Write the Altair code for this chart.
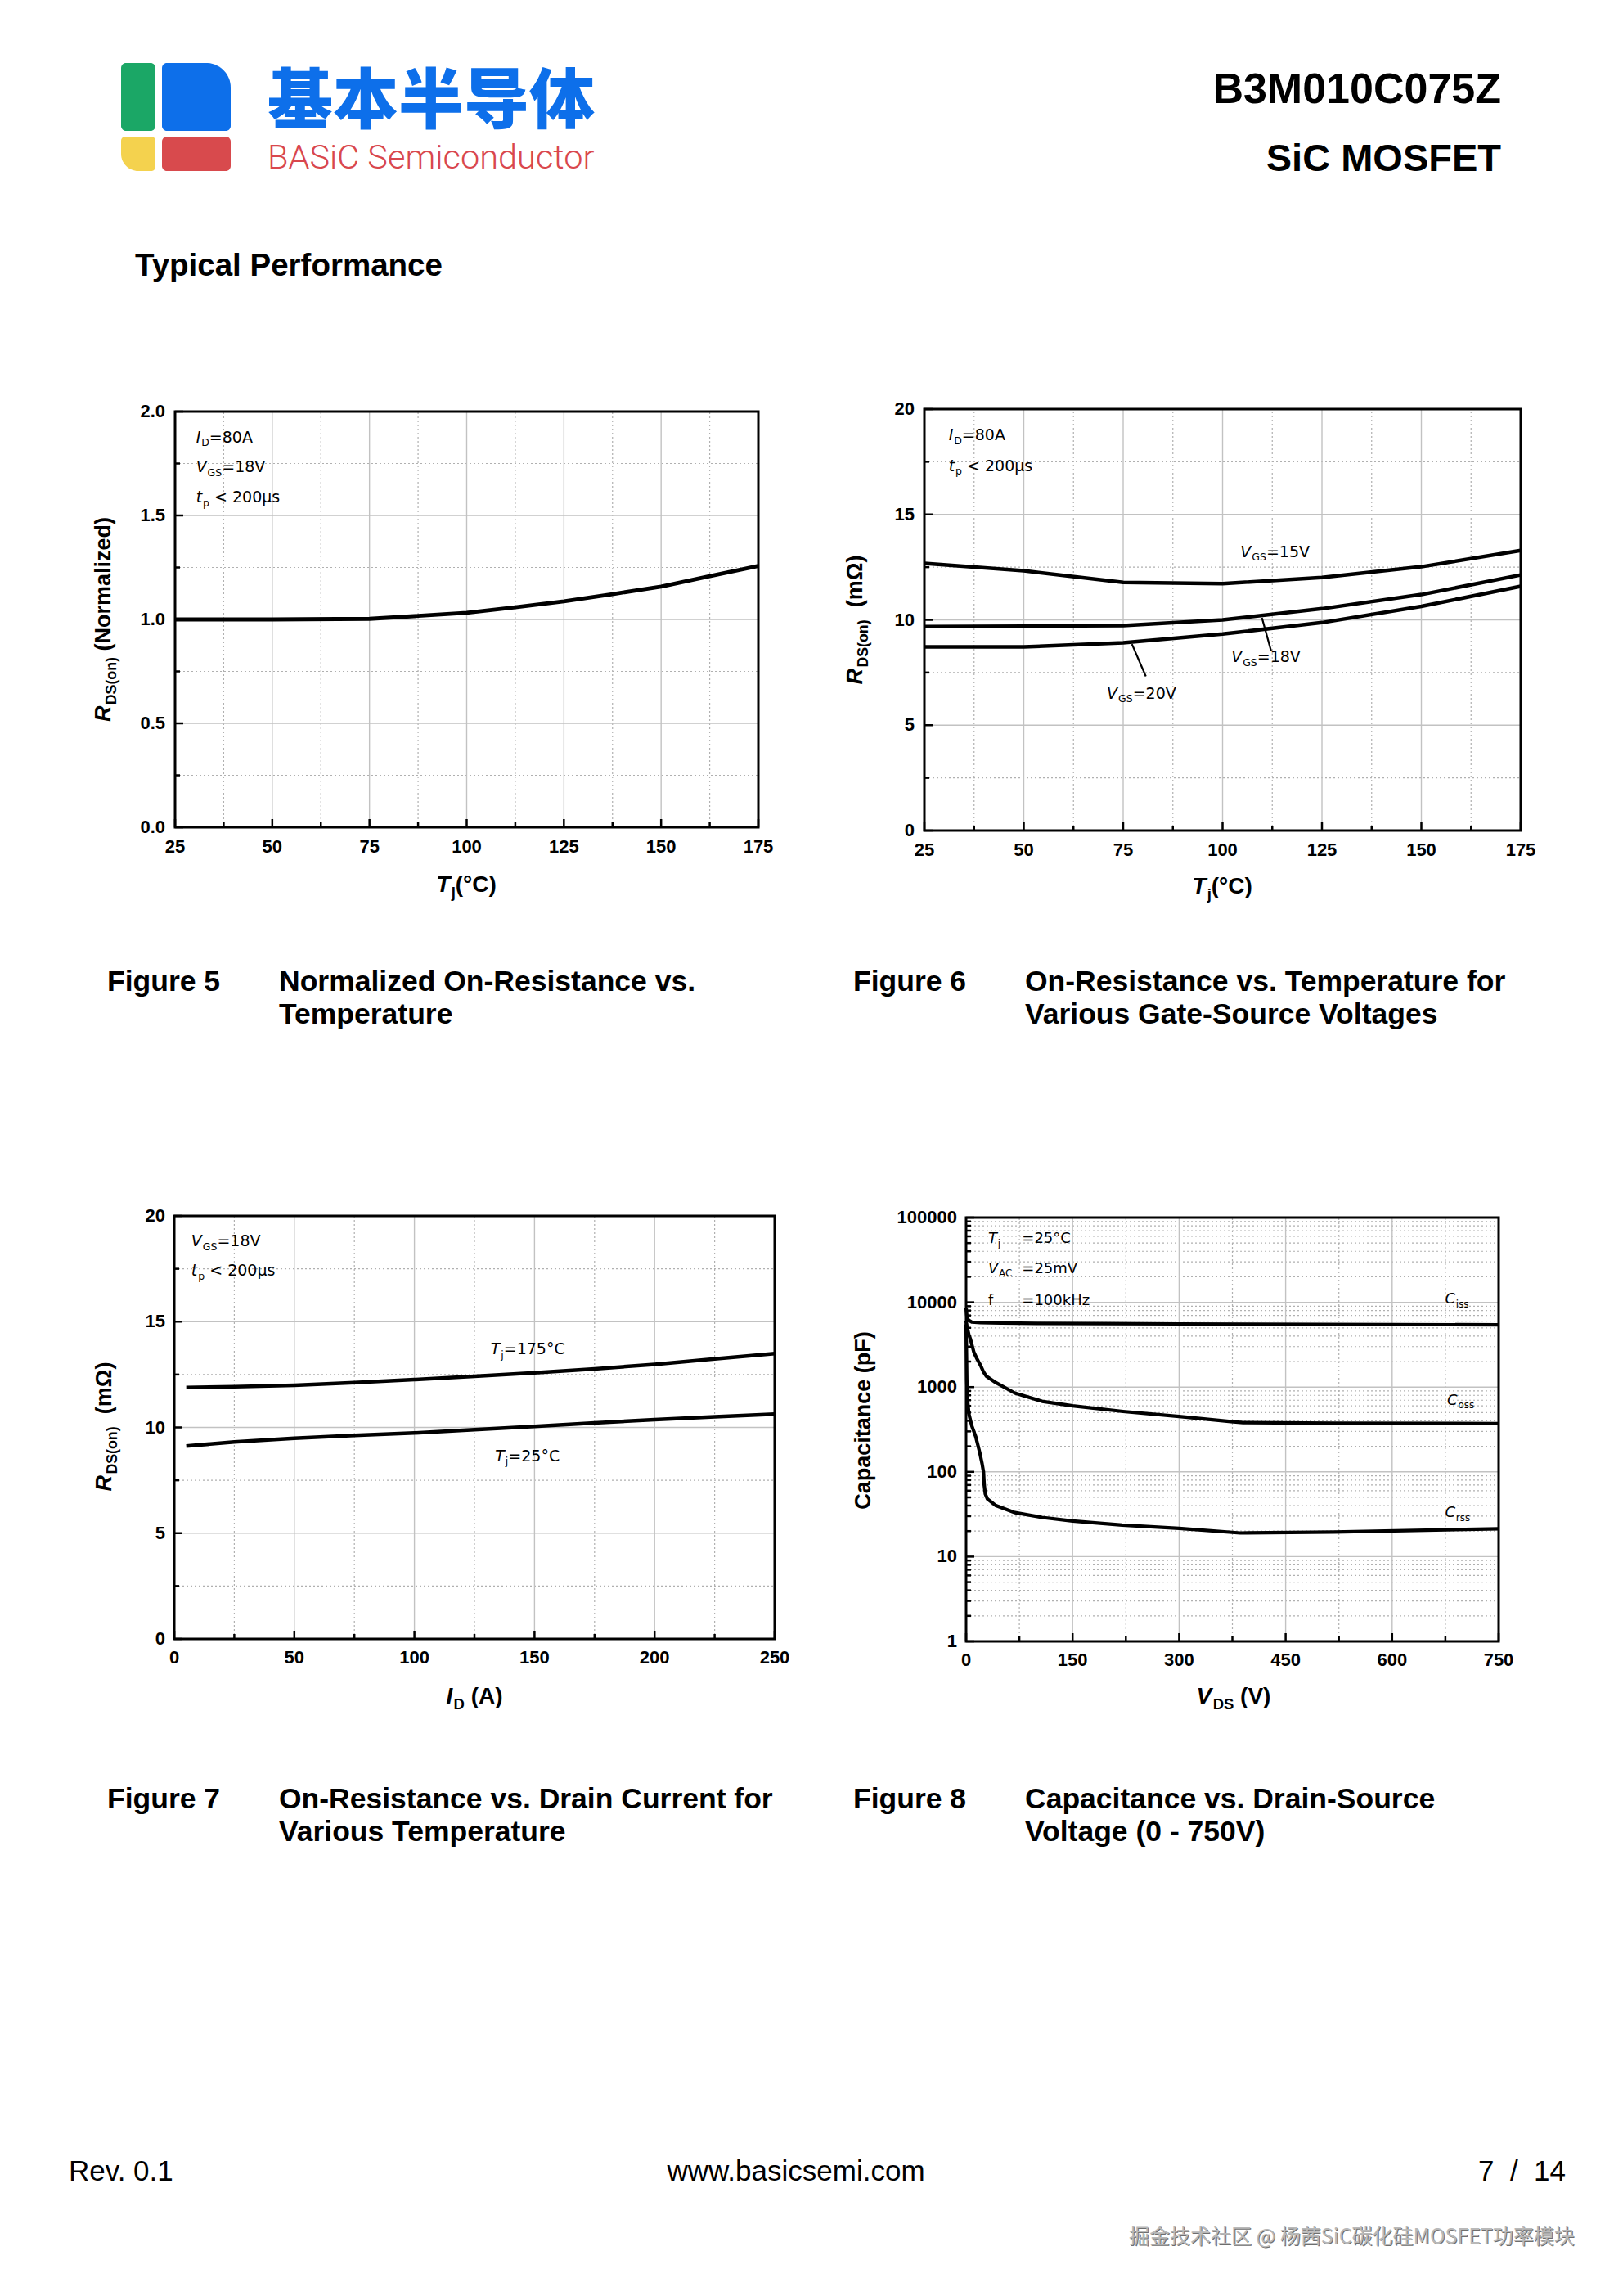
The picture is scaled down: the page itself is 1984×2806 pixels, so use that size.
import altair as alt
import pandas as pd

# ---------------- values ----------------
# Figure 5: normalized RDS(on) vs Tj
f5_tj = [25, 50, 75, 87.5, 100, 112.5, 125, 137.5, 150, 162.5, 175]
f5_rn = [1.000, 1.000, 1.003, 1.017, 1.032, 1.059, 1.087, 1.122, 1.158, 1.208, 1.257]

# Figure 6: RDS(on) vs Tj for VGS = 15 / 18 / 20 V
f6_tj = [25, 50, 75, 100, 125, 150, 175]
f6_vgs15 = [12.68, 12.33, 11.78, 11.72, 12.01, 12.52, 13.29]
f6_vgs18 = [9.68, 9.70, 9.73, 10.00, 10.53, 11.20, 12.13]
f6_vgs20 = [8.72, 8.72, 8.91, 9.33, 9.87, 10.64, 11.59]
f6_lead18_x = [109.9, 112.2]
f6_lead18_y = [10.1, 8.53]
f6_lead20_x = [77.2, 80.7]
f6_lead20_y = [8.85, 7.32]

# Figure 7: RDS(on) vs ID for Tj = 175 / 25 C
f7_id = [5, 25, 50, 75, 100, 125, 150, 175, 200, 225, 250]
f7_tj175 = [11.89, 11.92, 11.99, 12.12, 12.26, 12.42, 12.58, 12.77, 12.98, 13.24, 13.49]
f7_tj25 = [9.12, 9.31, 9.49, 9.62, 9.74, 9.89, 10.05, 10.21, 10.37, 10.50, 10.63]

# Figure 8: capacitances vs VDS
f8_ciss_v = [0, 1, 3, 8, 20, 50, 100, 200, 300, 400, 500, 600, 750]
f8_ciss = [8500, 7000, 6200, 5850, 5750, 5700, 5650, 5600, 5560, 5520, 5490, 5460, 5430]
f8_coss_v = [0, 1.3, 4, 6, 11, 16, 20.7, 24.5, 28.3, 41.7, 68.6, 107, 150, 221, 300, 373, 390, 518, 750]
f8_coss = [6000, 5140, 4100, 3700, 2570, 2100, 1780, 1515, 1350, 1130, 850, 680, 600, 516, 450, 392, 381, 374, 371]
f8_crss_v = [0, 0.5, 1, 2, 4, 8, 13.7, 19.5, 22.5, 24.5, 25.5, 27, 30, 42, 69, 107, 150, 220, 300, 386, 518, 750]
f8_crss = [5500, 2500, 1200, 700, 480, 350, 258, 165, 125, 100, 70, 55, 48, 40, 33, 29, 26.3, 23.5, 21.5, 19, 19.5, 21.3]

# tick values
t_temp_major = [25, 50, 75, 100, 125, 150, 175]
t_temp_minor = [37.5, 62.5, 87.5, 112.5, 137.5, 162.5]
t_norm_major = [0.0, 0.5, 1.0, 1.5, 2.0]
t_norm_minor = [0.25, 0.75, 1.25, 1.75]
t_res_major = [0, 5, 10, 15, 20]
t_res_minor = [2.5, 7.5, 12.5, 17.5]
t_id_major = [0, 50, 100, 150, 200, 250]
t_id_minor = [25, 75, 125, 175, 225]
t_vds_major = [0, 150, 300, 450, 600, 750]
t_vds_minor = [75, 225, 375, 525, 675]
t_cap_major = [1, 10, 100, 1000, 10000, 100000]
t_cap_minor = [k * 10 ** d for d in range(5) for k in range(2, 10)]

# ---------------- layout ----------------
W, H = 1968, 2790
M = 8


def P(v):
    return v - M


one = pd.DataFrame({'k': [0]})
LIB = 'Liberation Sans'
DJV = 'DejaVu Sans'
CJK = 'Noto Sans CJK SC'
GRID_MAJ = '#c2c2c2'
GRID_MIN = '#b0b0b0'

ARIAL_R = {' ': .278, '.': .278, '/': .278, 'R': .722, 'e': .556, 'v': .5, 'w': .722,
           'b': .556, 'a': .556, 's': .5, 'i': .222, 'c': .5, 'm': .833, 'o': .556}
for _d in '0123456789':
    ARIAL_R[_d] = .556
ARIAL_B = {' ': .278, '(': .333, ')': .333, '.': .278, '-': .333, '°': .4, 'Ω': .768,
           'A': .722, 'B': .722, 'C': .722, 'D': .722, 'E': .667, 'F': .611, 'G': .778,
           'I': .278, 'M': .833, 'N': .722, 'O': .778, 'P': .667, 'R': .722, 'S': .667,
           'T': .611, 'V': .667, 'Z': .611, 'a': .556, 'c': .556, 'd': .611, 'e': .556,
           'f': .333, 'g': .611, 'i': .278, 'j': .278, 'l': .278, 'm': .889, 'n': .611,
           'o': .611, 'p': .611, 'r': .389, 's': .556, 't': .333, 'u': .611, 'v': .556,
           'y': .556, 'z': .5}
for _d in '0123456789':
    ARIAL_B[_d] = .556
DJ = {' ': .318, '(': .390, ')': .390, '.': .318, '<': .838, '=': .838, '°': .5, 'μ': .636,
      'A': .684, 'C': .698, 'D': .770, 'G': .775, 'H': .752, 'I': .295, 'S': .635,
      'T': .611, 'V': .684, 'a': .613, 'c': .550, 'f': .352, 'j': .278, 'k': .579,
      'm': .974, 'o': .612, 'p': .635, 'r': .411, 's': .521, 'z': .525, 't': .392, 'i': .278}
for _d in '0123456789':
    DJ[_d] = .636


def tw(s, size, table):
    return size * sum(table.get(c, 0.6) for c in s)


def txt(s, pos, size, font, weight='normal', style='normal', color='black',
        align='left', angle=0, dx=0, dy=0, fig=None):
    mk = dict(text=s, font=font, fontSize=size, fontWeight=weight, fontStyle=style,
              color=color, align=align, baseline='alphabetic', dx=dx, dy=dy)
    if angle:
        mk['angle'] = angle
    if fig is None:
        return alt.Chart(one).mark_text(**mk).encode(
            x=alt.value(P(pos[0])), y=alt.value(P(pos[1])))
    df = pd.DataFrame({'x': [pos[0]], 'y': [pos[1]]})
    return alt.Chart(df).mark_text(**mk).encode(
        x=alt.X('x:Q', scale=fig['xs'], axis=None),
        y=alt.Y('y:Q', scale=fig['ys'], axis=None))


def rich(segs, pos, size, font, table, weight='normal', center=False, angle=0,
         fig=None, sub=0.66, subdy=0.25, color='black'):
    items = []
    for t, k in segs:
        fs = round(size * sub, 1) if k == 's' else size
        w = tw(t, fs, table) + (0.05 * fs if k == 'i' else 0)
        lead = tw(t[:len(t) - len(t.lstrip(' '))], fs, table)
        items.append((t.lstrip(' '), k, fs, w, lead))
    total = sum(i[3] for i in items)
    cur = -total / 2 if center else 0
    out = []
    for t, k, fs, w, lead in items:
        out.append(txt(t, pos, fs, font, weight, 'italic' if k == 'i' else 'normal', color,
                       'left', angle, dx=cur + lead, dy=(size * subdy if k == 's' else 0), fig=fig))
        cur += w
    return out


def make_fig(cfg):
    xs = alt.Scale(domain=cfg['xdom'], range=[P(cfg['xr'][0]), P(cfg['xr'][1])],
                   nice=False, zero=False)
    if cfg['log']:
        ys = alt.Scale(type='log', domain=cfg['ydom'],
                       range=[P(cfg['yr'][0]), P(cfg['yr'][1])], nice=False)
    else:
        ys = alt.Scale(domain=cfg['ydom'], range=[P(cfg['yr'][0]), P(cfg['yr'][1])],
                       nice=False, zero=False)
    return dict(cfg, xs=xs, ys=ys)


def fmt(v, f):
    return f.format(v)


def fig_layers(F, series, extra):
    xs, ys = F['xs'], F['ys']
    x0, x1 = F['xdom']
    y0, y1 = F['ydom']
    L = []
    vmin = pd.DataFrame({'v': F['xmin'], 'lo': y0, 'hi': y1})
    hmin = pd.DataFrame({'v': F['ymin'], 'lo': x0, 'hi': x1})
    vmaj = pd.DataFrame({'v': F['xmaj'], 'lo': y0, 'hi': y1})
    hmaj = pd.DataFrame({'v': F['ymaj'], 'lo': x0, 'hi': x1})
    L.append(alt.Chart(vmin).mark_rule(color=GRID_MIN, strokeWidth=1.2, strokeDash=[2, 3]).encode(
        x=alt.X('v:Q', scale=xs, axis=None), y=alt.Y('lo:Q', scale=ys, axis=None), y2='hi:Q'))
    L.append(alt.Chart(hmin).mark_rule(color=GRID_MIN, strokeWidth=1.2, strokeDash=[2, 3]).encode(
        y=alt.Y('v:Q', scale=ys, axis=None), x=alt.X('lo:Q', scale=xs, axis=None), x2='hi:Q'))
    L.append(alt.Chart(vmaj).mark_rule(color=GRID_MAJ, strokeWidth=1.4).encode(
        x=alt.X('v:Q', scale=xs, axis=None), y=alt.Y('lo:Q', scale=ys, axis=None), y2='hi:Q'))
    L.append(alt.Chart(hmaj).mark_rule(color=GRID_MAJ, strokeWidth=1.4).encode(
        y=alt.Y('v:Q', scale=ys, axis=None), x=alt.X('lo:Q', scale=xs, axis=None), x2='hi:Q'))
    for sx, sy in series:
        df = pd.DataFrame({'x': sx, 'y': sy})
        L.append(alt.Chart(df).mark_line(color='black', strokeWidth=F['lw'], strokeJoin='round').encode(
            x=alt.X('x:Q', scale=xs, axis=None), y=alt.Y('y:Q', scale=ys, axis=None)))
    fr = pd.DataFrame({'x0': [x0], 'x1': [x1], 'y0': [y0], 'y1': [y1]})
    L.append(alt.Chart(fr).mark_rect(fillOpacity=0, stroke='black', strokeWidth=3).encode(
        x=alt.X('x0:Q', scale=xs, axis=None), x2='x1:Q',
        y=alt.Y('y0:Q', scale=ys, axis=None), y2='y1:Q'))
    for vals, size in ((F['xmaj'], 10), (F['xmin'], 6)):
        df = pd.DataFrame({'v': vals, 'b': y0})
        L.append(alt.Chart(df).mark_tick(orient='vertical', size=size, thickness=2.5,
                                         color='black', yOffset=-size / 2, opacity=1).encode(
            x=alt.X('v:Q', scale=xs, axis=None), y=alt.Y('b:Q', scale=ys, axis=None)))
    for vals, size in ((F['ymaj'], 10), (F['ymin'], 6)):
        df = pd.DataFrame({'v': vals, 'b': x0})
        L.append(alt.Chart(df).mark_tick(orient='horizontal', size=size, thickness=2.5,
                                         color='black', xOffset=size / 2, opacity=1).encode(
            y=alt.Y('v:Q', scale=ys, axis=None), x=alt.X('b:Q', scale=xs, axis=None)))
    # tick labels, placed through the figure's scales
    xl = pd.DataFrame({'v': F['xmaj'], 'b': y0, 't': [fmt(v, F['xfmt']) for v in F['xmaj']]})
    L.append(alt.Chart(xl).mark_text(font=LIB, fontWeight='bold', fontSize=22, color='black',
                                     align='center', baseline='alphabetic', dy=F['xpad']).encode(
        x=alt.X('v:Q', scale=xs, axis=None), y=alt.Y('b:Q', scale=ys, axis=None), text='t:N'))
    yl = pd.DataFrame({'v': F['ymaj'], 'b': x0, 't': [fmt(v, F['yfmt']) for v in F['ymaj']]})
    L.append(alt.Chart(yl).mark_text(font=LIB, fontWeight='bold', fontSize=22, color='black',
                                     align='right', baseline='middle', dx=-F['ypad']).encode(
        y=alt.Y('v:Q', scale=ys, axis=None), x=alt.X('b:Q', scale=xs, axis=None), text='t:N'))
    L.extend(extra)
    return alt.layer(*L)


F5 = make_fig(dict(xdom=[25, 175], ydom=[0, 2], xr=(214, 927), yr=(1011, 503), log=False,
                   xmaj=t_temp_major, xmin=t_temp_minor, ymaj=t_norm_major, ymin=t_norm_minor,
                   xfmt='{:.0f}', yfmt='{:.1f}', xpad=31, ypad=12, lw=4.8))
F6 = make_fig(dict(xdom=[25, 175], ydom=[0, 20], xr=(1130, 1859), yr=(1015, 500), log=False,
                   xmaj=t_temp_major, xmin=t_temp_minor, ymaj=t_res_major, ymin=t_res_minor,
                   xfmt='{:.0f}', yfmt='{:.0f}', xpad=31, ypad=12, lw=4.5))
F7 = make_fig(dict(xdom=[0, 250], ydom=[0, 20], xr=(213, 947), yr=(2003, 1486), log=False,
                   xmaj=t_id_major, xmin=t_id_minor, ymaj=t_res_major, ymin=t_res_minor,
                   xfmt='{:.0f}', yfmt='{:.0f}', xpad=30, ypad=11, lw=4.5))
F8 = make_fig(dict(xdom=[0, 750], ydom=[1, 100000], xr=(1181, 1832), yr=(2006, 1488), log=True,
                   xmaj=t_vds_major, xmin=t_vds_minor, ymaj=t_cap_major, ymin=t_cap_minor,
                   xfmt='{:.0f}', yfmt='{:.0f}', xpad=30, ypad=11, lw=4.2))

AS = 19  # annotation font size


def note(segs, pos, fig, size=AS):
    return rich(segs, pos, size, DJV, DJ, fig=fig)


ex5 = []
ex5 += note([('I', 'i'), ('D', 's'), ('=80A', 'n')], (30.4, 1.852), F5)
ex5 += note([('V', 'i'), ('GS', 's'), ('=18V', 'n')], (30.4, 1.709), F5)
ex5 += note([('t', 'i'), ('p', 's'), (' < 200μs', 'n')], (30.4, 1.563), F5)

ex6 = []
for lx, ly in ((f6_lead18_x, f6_lead18_y), (f6_lead20_x, f6_lead20_y)):
    d = pd.DataFrame({'x': [lx[0]], 'x2': [lx[1]], 'y': [ly[0]], 'y2': [ly[1]]})
    ex6.append(alt.Chart(d).mark_rule(color='black', strokeWidth=2.2).encode(
        x=alt.X('x:Q', scale=F6['xs'], axis=None), x2='x2:Q',
        y=alt.Y('y:Q', scale=F6['ys'], axis=None), y2='y2:Q'))
ex6 += note([('I', 'i'), ('D', 's'), ('=80A', 'n')], (31.1, 18.51), F6)
ex6 += note([('t', 'i'), ('p', 's'), (' < 200μs', 'n')], (31.1, 17.06), F6)
ex6 += note([('V', 'i'), ('GS', 's'), ('=15V', 'n')], (104.5, 12.99), F6)
ex6 += note([('V', 'i'), ('GS', 's'), ('=18V', 'n')], (102.2, 8.0), F6)
ex6 += note([('V', 'i'), ('GS', 's'), ('=20V', 'n')], (70.9, 6.27), F6)

ex7 = []
ex7 += note([('V', 'i'), ('GS', 's'), ('=18V', 'n')], (7.1, 18.57), F7)
ex7 += note([('t', 'i'), ('p', 's'), (' < 200μs', 'n')], (7.1, 17.16), F7)
ex7 += note([('T', 'i'), ('j', 's'), ('=175°C', 'n')], (131.7, 13.47), F7)
ex7 += note([('T', 'i'), ('j', 's'), ('=25°C', 'n')], (133.6, 8.41), F7)

ex8 = []
ex8 += note([('T', 'i'), ('j', 's')], (31, 49900), F8, 18)
ex8 += note([('=25°C', 'n')], (78.7, 49900), F8, 18)
ex8 += note([('V', 'i'), ('AC', 's')], (31, 22070), F8, 18)
ex8 += note([('=25mV', 'n')], (78.7, 22070), F8, 18)
ex8 += note([('f', 'n')], (31, 9270), F8, 18)
ex8 += note([('=100kHz', 'n')], (78.7, 9270), F8, 18)
ex8 += note([('C', 'i'), ('iss', 's')], (674.4, 9590), F8, 18)
ex8 += note([('C', 'i'), ('oss', 's')], (677.4, 616), F8, 18)
ex8 += note([('C', 'i'), ('rss', 's')], (674.4, 29.3), F8, 18)

fig5 = fig_layers(F5, [(f5_tj, f5_rn)], ex5)
fig6 = fig_layers(F6, [(f6_tj, f6_vgs15), (f6_tj, f6_vgs18), (f6_tj, f6_vgs20)], ex6)
fig7 = fig_layers(F7, [(f7_id, f7_tj175), (f7_id, f7_tj25)], ex7)
fig8 = fig_layers(F8, [(f8_ciss_v, f8_ciss), (f8_coss_v, f8_coss), (f8_crss_v, f8_crss)], ex8)

# ---------------- page texts ----------------
T = []


def logo_rect(x0, y0, x1, y1, color, **corners):
    return alt.Chart(one).mark_rect(color=color, **corners).encode(
        x=alt.value(P(x0)), x2=alt.value(P(x1)), y=alt.value(P(y0)), y2=alt.value(P(y1)))


T.append(logo_rect(148, 77, 190, 160, '#1ba766', cornerRadius=6))
T.append(logo_rect(198, 77, 282, 160, '#0d6fea', cornerRadiusTopLeft=6, cornerRadiusBottomLeft=6,
                   cornerRadiusBottomRight=6, cornerRadiusTopRight=30))
T.append(logo_rect(148, 167, 190, 209, '#f4d24e', cornerRadiusTopLeft=5, cornerRadiusTopRight=5,
                   cornerRadiusBottomRight=5, cornerRadiusBottomLeft=32))
T.append(logo_rect(198, 167, 282, 209, '#d84a4d', cornerRadius=6))
T.append(txt('基本半导体', (327, 150), 80, CJK, weight=900, color='#0d6fea'))
T.append(txt('BASiC Semiconductor', (327, 206), 41.5, 'Roboto', weight=300, color='#d9474d'))
T.append(txt('B3M010C075Z', (1835, 126), 52, LIB, weight='bold', align='right'))
T.append(txt('SiC MOSFET', (1835, 209), 47, LIB, weight='bold', align='right'))
T.append(txt('Typical Performance', (165, 337), 38.5, LIB, weight='bold'))

# axis titles
T += rich([('R', 'i'), ('DS(on)', 's'), (' (Normalized)', 'n')], (135, 757), 27, LIB, ARIAL_B,
          weight='bold', center=True, angle=270)
T += rich([('R', 'i'), ('DS(on)', 's'), ('  (mΩ)', 'n')], (1054, 758), 27, LIB, ARIAL_B,
          weight='bold', center=True, angle=270)
T += rich([('R', 'i'), ('DS(on)', 's'), ('  (mΩ)', 'n')], (136, 1744), 27, LIB, ARIAL_B,
          weight='bold', center=True, angle=270)
T += rich([('Capacitance (pF)', 'n')], (1064, 1736), 27, LIB, ARIAL_B,
          weight='bold', center=True, angle=270)
T += rich([('T', 'i'), ('j', 's'), ('(°C)', 'n')], (570, 1090), 28, LIB, ARIAL_B,
          weight='bold', center=True)
T += rich([('T', 'i'), ('j', 's'), ('(°C)', 'n')], (1494, 1092), 28, LIB, ARIAL_B,
          weight='bold', center=True)
T += rich([('I', 'i'), ('D', 's'), (' (A)', 'n')], (580, 2082), 28, LIB, ARIAL_B,
          weight='bold', center=True)
T += rich([('V', 'i'), ('DS', 's'), (' (V)', 'n')], (1508, 2082), 28, LIB, ARIAL_B,
          weight='bold', center=True)

# captions
CAP = 35.5
for (fx, tx, y1, y2, num, l1, l2) in (
        (131, 341, 1211, 1251, 'Figure 5', 'Normalized On-Resistance vs.', 'Temperature'),
        (1043, 1253, 1211, 1251, 'Figure 6', 'On-Resistance vs. Temperature for', 'Various Gate-Source Voltages'),
        (131, 341, 2210, 2250, 'Figure 7', 'On-Resistance vs. Drain Current for', 'Various Temperature'),
        (1043, 1253, 2210, 2250, 'Figure 8', 'Capacitance vs. Drain-Source', 'Voltage (0 - 750V)')):
    T.append(txt(num, (fx, y1), CAP, LIB, weight='bold'))
    T.append(txt(l1, (tx, y1), CAP, LIB, weight='bold'))
    T.append(txt(l2, (tx, y2), CAP, LIB, weight='bold'))

# footer
T.append(txt('Rev. 0.1', (84, 2665), 35, LIB))
T.append(txt('www.basicsemi.com', (973, 2665), 35, LIB, align='center'))
T.append(txt('7\u00a0 /\u00a0 14', (1914, 2665), 35, LIB, align='right'))
T.append(txt('掘金技术社区 @ 杨茜SiC碳化硅MOSFET功率模块', (1381, 2743), 25, CJK, color='#6e6e6e'))
T.append(txt('掘金技术社区 @ 杨茜SiC碳化硅MOSFET功率模块', (1380, 2742), 25, CJK, color='#b9b9b9'))

chart = alt.layer(fig5, fig6, fig7, fig8, *T).resolve_scale(
    x='independent', y='independent'
).properties(
    width=W, height=H, autosize=alt.AutoSizeParams(type='none'), padding=0, background='white'
).configure_view(stroke=None)

chart.save('out.html', embed_options={'renderer': 'svg', 'actions': False})
